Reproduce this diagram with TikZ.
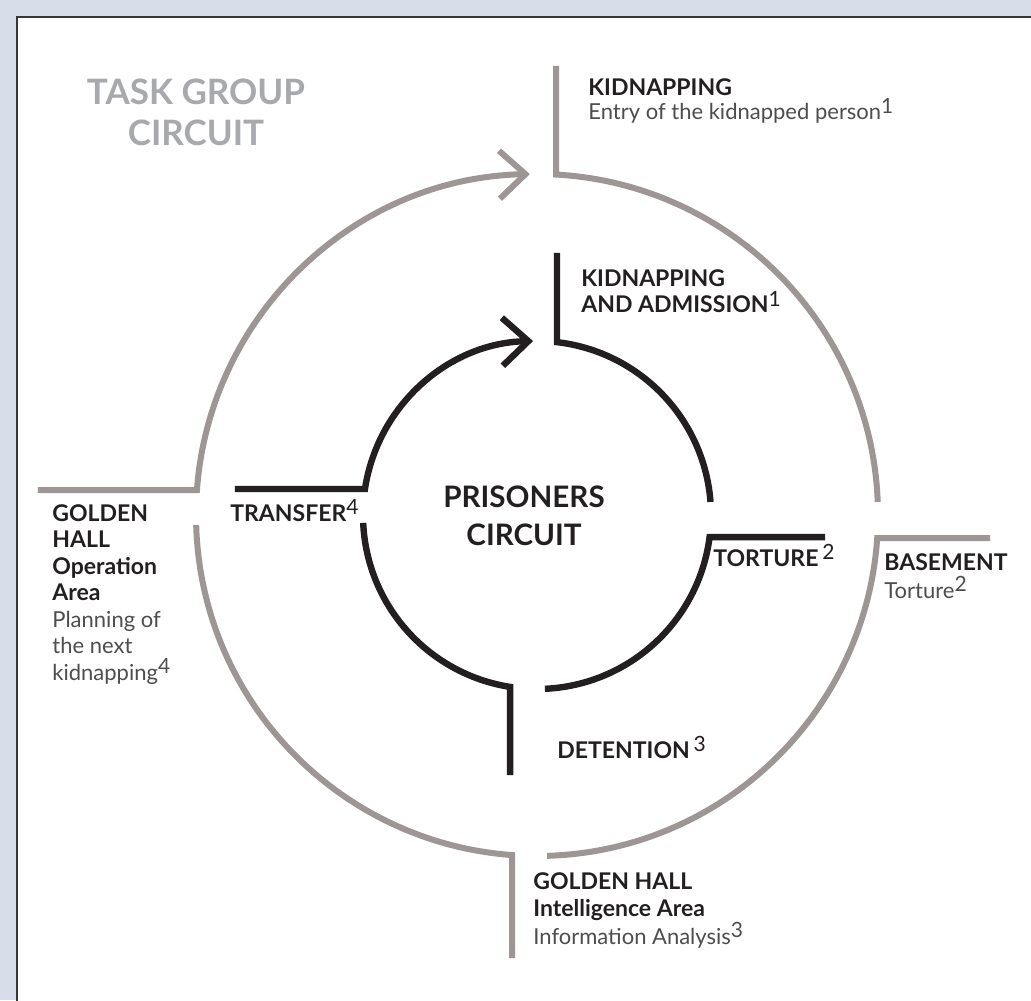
\documentclass[tikz,border=0pt]{standalone}
\usepackage{fontspec}
\setmainfont{Lato}
\usetikzlibrary{arrows.meta}
\definecolor{pagebg}{RGB}{214,222,234}
\definecolor{framegray}{RGB}{55,55,57}
\definecolor{taskgray}{RGB}{158,150,148}
\definecolor{titlegray}{RGB}{167,169,172}
\definecolor{inkblack}{RGB}{35,31,32}
\definecolor{bodygray}{RGB}{77,77,79}
\newcommand\light{\mdseries\fontsize{11}{13.25}\selectfont\color{bodygray}}
\newcommand\fnum[1]{\raisebox{.3em}{\mdseries\fontsize{10.5}{10.5}\selectfont#1}}

\begin{document}
\begin{tikzpicture}[x=0.5pt,y=0.5pt,>={Straight Barb[length=13pt,width=24pt]},
  taskline/.style={draw=taskgray,line width=3pt},
  prisline/.style={draw=inkblack,line width=3.2pt},
  lbl/.style={anchor=base west,inner sep=0,align=left,text=inkblack,
    font=\bfseries\fontsize{11.5}{13.25}\selectfont},
  title/.style={anchor=base,inner sep=0,align=center,font=\bfseries}]
  \useasboundingbox (-537,-485) rectangle (494,515);
  \fill[pagebg] (-537,-485) rectangle (494,515);
  \fill[white] (-520,-490) rectangle (500,498);
  \draw[framegray,line width=1pt] (-520,-490) -- (-520,498) -- (500,498);

  \coordinate (O) at (0,0);
  \coordinate (kidC) at (86.8:341);
  \coordinate (kidE) at (kidC |- 0,449);
  \coordinate (basC) at (-3.9:341);
  \coordinate (basE) at (basC -| 453,0);
  \coordinate (intC) at (-94.2:341);
  \coordinate (intE) at (intC |- 0,-443);
  \coordinate (opC) at (175.8:341);
  \coordinate (opE) at (opC -| -499,0);
  \draw[taskline] (kidE) -- (kidC) arc[start angle=86.8,end angle=2.2,radius=341];
  \draw[taskline] (basE) -- (basC) arc[start angle=-3.9,end angle=-88.3,radius=341];
  \draw[taskline] (intE) -- (intC) arc[start angle=-94.2,end angle=-178.3,radius=341];
  \draw[taskline,->] (opE) -- (opC) arc[start angle=175.8,end angle=91.2,radius=341];

  \coordinate (admC) at (83.4:174);
  \coordinate (admE) at (admC |- 0,262);
  \coordinate (torC) at (-7.3:174);
  \coordinate (torE) at (torC -| 288,0);
  \coordinate (detC) at (-98.9:174);
  \coordinate (detE) at (detC |- 0,-260);
  \coordinate (traC) at (171.4:174);
  \coordinate (traE) at (traC -| -302,0);
  \draw[prisline] (admE) -- (admC) arc[start angle=83.4,end angle=4.3,radius=174];
  \draw[prisline] (torE) -- (torC) arc[start angle=-7.3,end angle=-87.4,radius=174];
  \draw[prisline] (detE) -- (detC) arc[start angle=-98.9,end angle=-177.4,radius=174];
  \draw[prisline,->] (traE) -- (traC) arc[start angle=171.4,end angle=91.3,radius=174];

  \node[title,text=titlegray,font=\bfseries\fontsize{17.5}{20.5}\selectfont] (taskTitle) at (-341,369) {TASK GROUP\\CIRCUIT};
  \node[title,text=inkblack,font=\bfseries\fontsize{14.8}{19}\selectfont] (prisTitle) at (-13,-30) {PRISONERS\\CIRCUIT};

  \node[lbl,font=\bfseries\fontsize{11.5}{12}\selectfont] (kidnapOut) at (51,395) {KIDNAPPING\\{\light Entry of the kidnapped person\fnum{1}}};
  \node[lbl,font=\bfseries\fontsize{11.5}{13}\selectfont] (kidnapIn) at (44,202) {KIDNAPPING\\AND ADMISSION\fnum{1}};
  \node[lbl] (tortureIn) at (176,-51) {TORTURE\,\fnum{2}};
  \node[lbl,font=\bfseries\fontsize{11.5}{13.5}\selectfont] (basementOut) at (347,-83) {BASEMENT\\{\light Torture\fnum{2}}};
  \node[lbl] (detentionIn) at (20,-243) {DETENTION\,\fnum{3}};
  \node[lbl,font=\bfseries\fontsize{11.5}{13.75}\selectfont] (intelOut) at (-4,-429) {GOLDEN HALL\\Intelligence Area\\{\light Information Analysis\fnum{3}}};
  \node[lbl] (operationOut) at (-485,-165) {GOLDEN\\HALL\\Operation\\Area\\{\light Planning of}\\{\light the next}\\{\light kidnapping\fnum{4}}};
  \node[lbl] (transferIn) at (-307,-6) {TRANSFER\fnum{4}};
\end{tikzpicture}
\end{document}
